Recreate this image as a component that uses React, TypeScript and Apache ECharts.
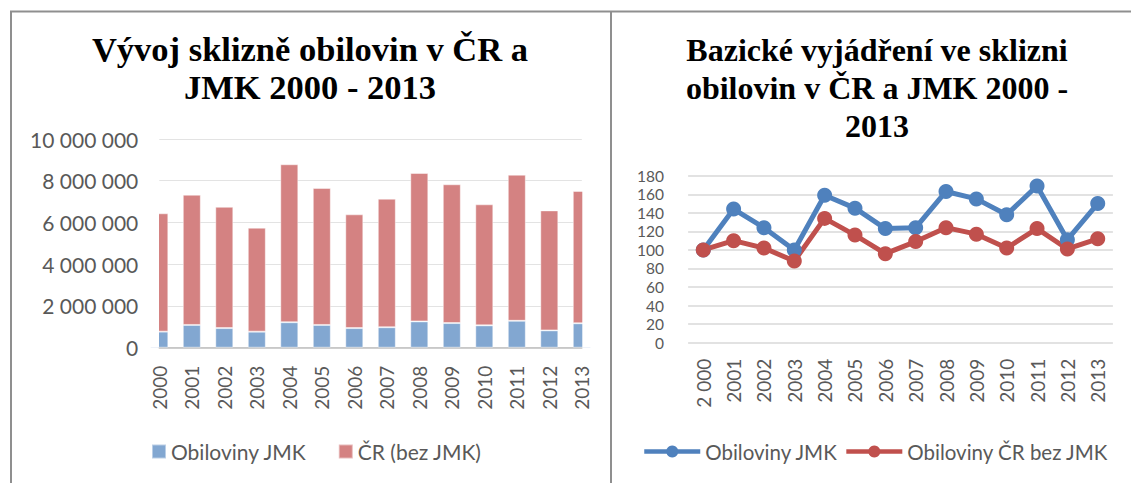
import React, { useEffect, useRef } from "react";
import * as echarts from "echarts";

const years = ["2000", "2001", "2002", "2003", "2004", "2005", "2006", "2007", "2008", "2009", "2010", "2011", "2012", "2013"];
const yearLabelsRight = ["2 000", "2001", "2002", "2003", "2004", "2005", "2006", "2007", "2008", "2009", "2010", "2011", "2012", "2013"];

const jmkHarvest = [770000, 1090000, 940000, 770000, 1220000, 1090000, 940000, 980000, 1260000, 1180000, 1070000, 1290000, 830000, 1170000];
const crHarvest = [5670000, 6240000, 5810000, 4980000, 7570000, 6560000, 5450000, 6160000, 7110000, 6650000, 5800000, 7000000, 5750000, 6340000];

const jmkIndex = [100, 144, 124, 100, 159, 145, 123, 124, 163, 155, 138, 169, 111, 150];
const crIndex = [100, 110, 102, 88, 134, 116, 96, 109, 124, 117, 102, 123, 101, 112];

const leftTitle = "Vývoj sklizně obilovin v ČR a\nJMK 2000 - 2013";
const rightTitle = "Bazické vyjádření ve sklizni\nobilovin v ČR a JMK 2000 -\n2013";

const sans = "Lato";
const labelColor = "#595959";

function fmtSpace(v: number): string {
  return String(v).replace(/\B(?=(\d{3})+(?!\d))/g, " ");
}

export default function App() {
  const ref = useRef<HTMLDivElement>(null);
  useEffect(() => {
    if (!ref.current) return;
    const chart = echarts.init(ref.current, null, { renderer: "svg" });
    const borderColor = "#8f8f8f";
    chart.setOption({
      animation: false,
      backgroundColor: "#ffffff",
      textStyle: { fontFamily: sans },
      graphic: [
        // masks that trim the half bars at the ends of the on-tick category axis
        { type: "rect", z: 100, shape: { x: 140, y: 120, width: 19, height: 227 }, style: { fill: "#ffffff" } },
        { type: "rect", z: 100, shape: { x: 582.3, y: 120, width: 20, height: 227 }, style: { fill: "#ffffff" } },
        { type: "line", z: 101, shape: { x1: 10, y1: 11.5, x2: 1131, y2: 11.5 }, style: { stroke: borderColor, lineWidth: 2 } },
        { type: "line", z: 101, shape: { x1: 11, y1: 11, x2: 11, y2: 483 }, style: { stroke: borderColor, lineWidth: 2 } },
        { type: "line", z: 101, shape: { x1: 611, y1: 11, x2: 611, y2: 483 }, style: { stroke: borderColor, lineWidth: 2 } },
        {
          type: "text",
          z: 101,
          x: 310,
          y: 30,
          style: {
            text: leftTitle,
            fontFamily: "Liberation Serif",
            fontWeight: "bold",
            fontSize: 34.5,
            lineHeight: 38,
            fill: "#000000",
            align: "center",
            verticalAlign: "top",
          },
        },
        {
          type: "text",
          z: 101,
          x: 877,
          y: 31,
          style: {
            text: rightTitle,
            fontFamily: "Liberation Serif",
            fontWeight: "bold",
            fontSize: 32,
            lineHeight: 38,
            fill: "#000000",
            align: "center",
            verticalAlign: "top",
          },
        },
      ],
      legend: [
        {
          left: 151,
          top: 441,
          padding: 0,
          icon: "rect",
          itemWidth: 14,
          itemHeight: 14,
          itemGap: 31,
          textStyle: { fontFamily: sans, fontSize: 21, color: labelColor },
          data: ["Obiloviny JMK", "ČR (bez JMK)"],
        },
        {
          left: 642,
          top: 441,
          width: 489,
          padding: 0,
          itemWidth: 56,
          itemHeight: 15,
          itemGap: 1,
          lineStyle: { width: 4.5 },
          textStyle: { fontFamily: sans, fontSize: 20.5, color: labelColor },
          data: ["Obiloviny JMK ", "Obiloviny ČR bez JMK"],
        },
      ],
      grid: [
        { left: 159.3, width: 422.5, top: 139, height: 208.7, containLabel: false },
        { left: 688.1, width: 424.8, top: 175.7, height: 167, containLabel: false },
      ],
      xAxis: [
        {
          type: "category",
          gridIndex: 0,
          data: years,
          boundaryGap: false,
          axisLine: { lineStyle: { color: "#bfbfbf", width: 1.5 } },
          axisTick: { show: false },
          axisLabel: { rotate: 90, margin: 18, fontSize: 19, color: labelColor, fontFamily: sans, interval: 0 },
        },
        {
          type: "category",
          gridIndex: 1,
          data: yearLabelsRight,
          boundaryGap: true,
          axisLine: { show: false },
          axisTick: { show: false },
          axisLabel: { rotate: 90, margin: 16, fontSize: 19, color: labelColor, fontFamily: sans, interval: 0 },
        },
      ],
      yAxis: [
        {
          type: "value",
          gridIndex: 0,
          min: 0,
          max: 10000000,
          interval: 2000000,
          axisLine: { show: false },
          axisTick: { show: false },
          splitLine: { show: true, showMinLine: true, showMaxLine: true, lineStyle: { color: "#e3e3e3", width: 1.2 } },
          axisLabel: {
            margin: 21,
            fontSize: 21,
            color: labelColor,
            fontFamily: sans,
            showMinLabel: true,
            showMaxLabel: true,
            formatter: (v: number) => fmtSpace(v),
          },
        },
        {
          type: "value",
          gridIndex: 1,
          min: 0,
          max: 180,
          interval: 20,
          axisLine: { show: false },
          axisTick: { show: false },
          splitLine: { show: true, showMinLine: true, showMaxLine: true, lineStyle: { color: "#d9d9d9", width: 1.5 } },
          axisLabel: {
            margin: 24,
            fontSize: 15.5,
            lineHeight: 15.5,
            color: labelColor,
            fontFamily: sans,
            showMinLabel: true,
            showMaxLabel: true,
            hideOverlap: false,
          },
        },
      ],
      series: [
        {
          name: "Obiloviny JMK",
          type: "bar",
          xAxisIndex: 0,
          yAxisIndex: 0,
          stack: "total",
          barWidth: 18,
          itemStyle: { color: "#82a7d1", borderColor: "rgba(255,255,255,0.45)", borderWidth: 1 },
          data: jmkHarvest,
        },
        {
          name: "ČR (bez JMK)",
          type: "bar",
          xAxisIndex: 0,
          yAxisIndex: 0,
          stack: "total",
          barWidth: 18,
          itemStyle: { color: "#d48282", borderColor: "rgba(255,255,255,0.45)", borderWidth: 1 },
          data: crHarvest,
        },
        {
          name: "Obiloviny JMK ",
          type: "line",
          xAxisIndex: 1,
          yAxisIndex: 1,
          symbol: "circle",
          symbolSize: 15,
          lineStyle: { color: "#4f81bd", width: 5 },
          itemStyle: { color: "#4f81bd" },
          data: jmkIndex,
        },
        {
          name: "Obiloviny ČR bez JMK",
          type: "line",
          xAxisIndex: 1,
          yAxisIndex: 1,
          symbol: "circle",
          symbolSize: 15,
          lineStyle: { color: "#c0504d", width: 5 },
          itemStyle: { color: "#c0504d" },
          data: crIndex,
        },
      ],
    });
    return () => chart.dispose();
  }, []);
  return (
    <div
      ref={ref}
      style={{ position: "fixed", left: 0, top: 0, width: 1131, height: 483, background: "#fff" }}
    />
  );
}
